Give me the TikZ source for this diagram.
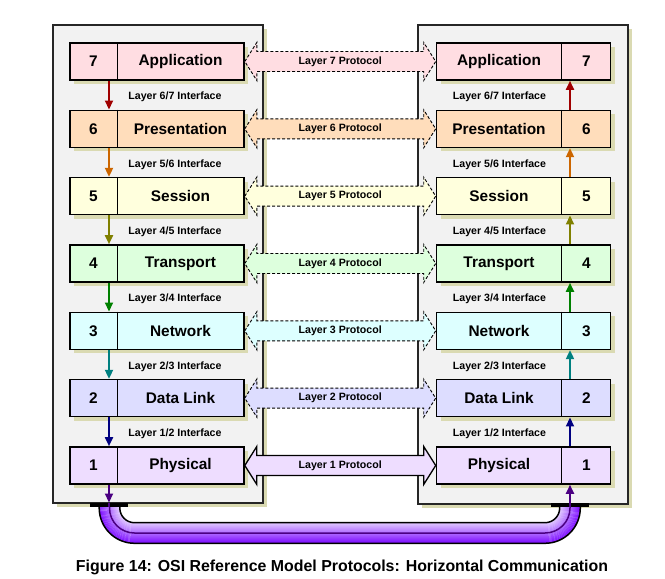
\documentclass[tikz,border=0pt]{standalone}
\usepackage{fontspec}
\setmainfont{Liberation Sans}
\usetikzlibrary{calc,arrows.meta,shadows}
\definecolor{f7}{HTML}{FFDDE2}
\definecolor{f6}{HTML}{FFDDBB}
\definecolor{f5}{HTML}{FFFFDD}
\definecolor{f4}{HTML}{DDFFDD}
\definecolor{f3}{HTML}{DDFFFF}
\definecolor{f2}{HTML}{DDDDFF}
\definecolor{f1}{HTML}{EEDDFF}
\definecolor{a7}{HTML}{A00000}
\definecolor{a6}{HTML}{CC6600}
\definecolor{a5}{HTML}{808000}
\definecolor{a4}{HTML}{008000}
\definecolor{a3}{HTML}{008080}
\definecolor{a2}{HTML}{000080}
\definecolor{a1}{HTML}{4B0082}
\definecolor{panelc}{HTML}{F2F2F2}
\definecolor{shadowc}{HTML}{DADAB2}
\definecolor{cablight}{HTML}{E2CCFF}
\definecolor{cabdark}{HTML}{7F10FF}
\begin{document}
\begin{tikzpicture}[x=1pt,y=-1pt,
  panel/.style={draw=black!85,line width=1.5,fill=panelc,inner sep=0pt,
    drop shadow={shadow xshift=4pt,shadow yshift=-4pt,fill=shadowc,opacity=1}},
  layerbox/.style={draw=black,line width=1.6,minimum width=174pt,minimum height=37pt,inner sep=0pt,
    drop shadow={shadow xshift=4pt,shadow yshift=-4pt,fill=shadowc,opacity=1}},
  boxtext/.style={font=\fontsize{15.4}{18}\selectfont\bfseries,inner sep=0pt},
  smalltext/.style={font=\fontsize{10.6}{12}\selectfont\bfseries,inner sep=0pt},
  proto/.style={draw=black,line width=0.9,dash pattern=on 3pt off 2pt},
  protosolid/.style={draw=black,line width=1.3},
  vert/.style={line width=1.8,-{Triangle[width=8pt,length=9pt]}},
  bar/.style={fill=black,minimum width=38pt,minimum height=4.5pt,inner sep=0pt}]
\useasboundingbox (0,0) rectangle (665,579);
% panels
\node[panel,minimum width=210pt,minimum height=478pt,anchor=north west] (PL) at (52,24) {};
\node[panel,minimum width=210pt,minimum height=479pt,anchor=north west] (PR) at (417,24) {};
% layer boxes
\foreach \n/\nm in {7/Application,6/Presentation,5/Session,4/Transport,3/Network,2/Data Link,1/Physical}{
  \pgfmathsetmacro\yc{61.5+(7-\n)*67.33}
  \node[layerbox,fill=f\n] (L\n) at (157,\yc) {};
  \node[layerbox,fill=f\n] (R\n) at (523.5,\yc) {};
  \draw[line width=1] ($(L\n.north west)+(47.8,0)$) -- ($(L\n.south west)+(47.8,0)$);
  \draw[line width=1] ($(R\n.north west)+(125.8,0)$) -- ($(R\n.south west)+(125.8,0)$);
  \node[boxtext] at ($(L\n.west)+(24.3,0)$) {\n};
  \node[boxtext] at ($(L\n.west)+(111.3,0)$) {\nm};
  \node[boxtext] at ($(R\n.west)+(63.3,0)$) {\nm};
  \node[boxtext] at ($(R\n.west)+(150.8,0)$) {\n};
}
% protocol arrows
\foreach \n in {7,6,5,4,3,2,1}{
  \ifnum\n=1 \tikzset{pstyle/.style={protosolid}}\else\tikzset{pstyle/.style={proto}}\fi
  \draw[pstyle,fill=f\n] (L\n.east) -- ($(L\n.east)+(12,-19)$) -- ($(L\n.east)+(12,-10)$)
    -- ($(R\n.west)+(-12,-10)$) -- ($(R\n.west)+(-12,-19)$) -- (R\n.west)
    -- ($(R\n.west)+(-12,19)$) -- ($(R\n.west)+(-12,10)$)
    -- ($(L\n.east)+(12,10)$) -- ($(L\n.east)+(12,19)$) -- cycle;
  \node[smalltext] at ($(L\n.east)!0.5!(R\n.west)$) {Layer \n{} Protocol};
}
% vertical arrows and interface labels
\foreach \n/\m in {7/6,6/5,5/4,4/3,3/2,2/1}{
  \draw[vert,color=a\n] ($(L\n.south west)+(39.8,0)$) -- ($(L\m.north west)+(39.8,0)$);
  \draw[vert,color=a\n] ($(R\m.north west)+(134.3,0)$) -- ($(R\n.south west)+(134.3,0)$);
  \node[smalltext] at ($(L\n.south west)!0.5!(L\m.north west)+(105.8,2)$) {Layer \m/\n{} Interface};
  \node[smalltext] at ($(R\n.south west)!0.5!(R\m.north west)+(63.8,2)$) {Layer \m/\n{} Interface};
}
% cable
\coordinate (cl) at (109.5,507);
\coordinate (cr) at (570,507);
\foreach \o in {-9.5,-8.5,...,9.5}{
  \pgfmathsetmacro\t{(\o+10)*5}
  \pgfmathsetmacro\r{25+\o}
  \draw[line width=1.15,color=cabdark!\t!cablight,rounded corners=\r pt]
    ($(cl)+(-\o,0)$) -- ($(cl)+(-\o,26+\o)$) -- ($(cr)+(\o,26+\o)$) -- ($(cr)+(\o,0)$);
}
\foreach \o/\r in {-10.3/14.7,10.3/35.3}{
  \draw[line width=1.5,black,rounded corners=\r pt]
    ($(cl)+(-\o,0)$) -- ($(cl)+(-\o,26+\o)$) -- ($(cr)+(\o,26+\o)$) -- ($(cr)+(\o,0)$);
}
\draw[line width=1.5,color=a1,rounded corners=25pt] (cl) -- ($(cl)+(0,26)$) -- ($(cr)+(0,26)$) -- (cr);
\node[bar] (BL) at (109,505) {};
\node[bar] (BR) at (570,505) {};
\draw[vert,color=a1] ($(L1.south west)+(39.8,0)$) -- (BL.north);
\draw[vert,color=a1] (BR.north) -- ($(R1.south west)+(134.3,0)$);
\draw[line width=1.8,color=a1] (BL.north) -- (BL.south);
\draw[line width=1.8,color=a1] (BR.north) -- (BR.south);
% caption
\node[font=\fontsize{15.9}{18}\selectfont\bfseries,inner sep=0pt] (cap) at (342,567) {Figure 14: OSI Reference Model Protocols: Horizontal Communication};
\end{tikzpicture}
\end{document}
